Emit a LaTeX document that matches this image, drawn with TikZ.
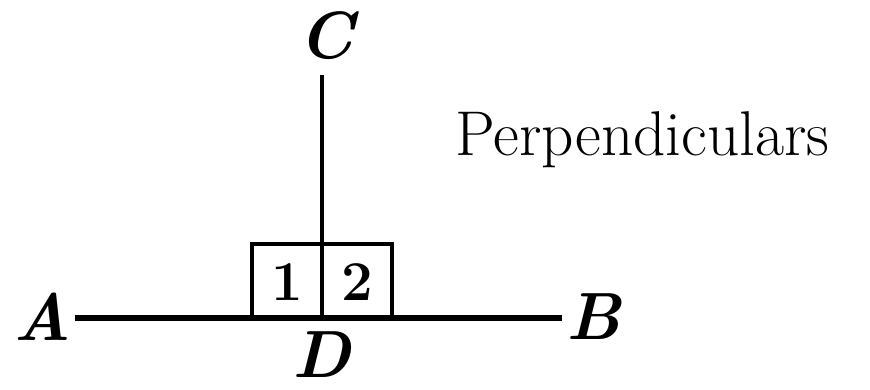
\documentclass[tikz,border=0pt]{standalone}
\usetikzlibrary{positioning}
\tikzset{
  ptlabel/.style={font=\fontsize{38}{40}\selectfont\bfseries\itshape},
  anglenum/.style={font=\fontsize{32}{34}\selectfont\bfseries}
}
\begin{document}
\begin{tikzpicture}[line cap=butt,line join=miter]
  \useasboundingbox (0,0) rectangle (17.4,7.78);
  \coordinate (a) at (1.50,1.42);
  \coordinate (b) at (11.24,1.42);
  \coordinate (c) at (6.44,6.28);
  \coordinate (d) at (6.44,1.42);
  \draw[line width=2.2pt] (5.04,1.42) rectangle (6.44,2.90);
  \draw[line width=2.2pt] (6.44,1.42) rectangle (7.84,2.90);
  \draw[line width=3pt] (a) -- (b);
  \draw[line width=2.2pt] (d) -- (c);
  \node[ptlabel] (A) at (0.84,1.44) {A};
  \node[ptlabel] (B) at (11.88,1.44) {B};
  \node[ptlabel] (C) at (6.52,7.06) {C};
  \node[ptlabel,inner sep=0pt] (D) at (6.44,0.68) {D};
  \node[anglenum] (n1) at (5.74,2.14) {1};
  \node[anglenum] (n2) at (7.14,2.14) {2};
  \node[anchor=base west,inner sep=0pt,font=\fontsize{36}{38}\selectfont] (title) at (9.10,4.68) {Perpendiculars};
\end{tikzpicture}
\end{document}
